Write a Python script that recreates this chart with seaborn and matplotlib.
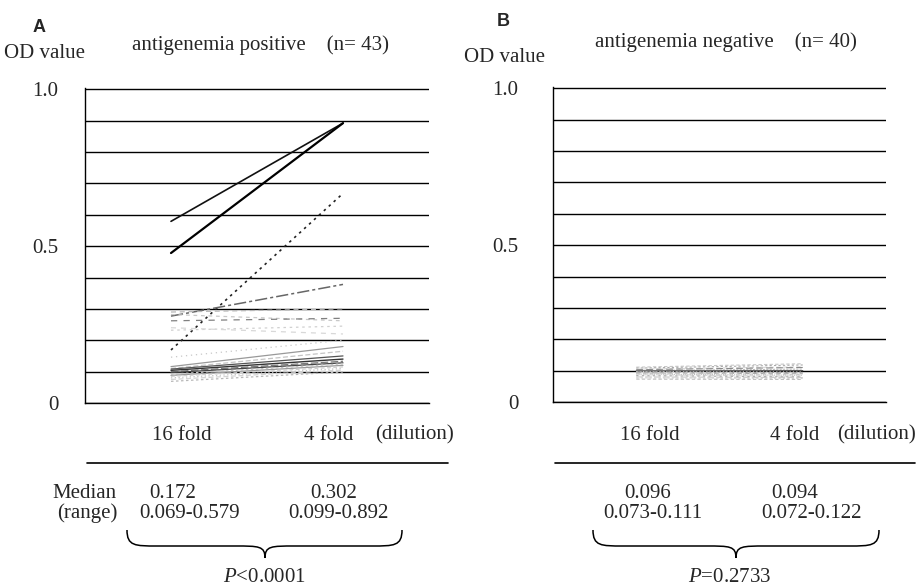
import numpy as np
import pandas as pd
import matplotlib
matplotlib.use("Agg")
import matplotlib.pyplot as plt
from matplotlib.path import Path
from matplotlib.patches import PathPatch
import seaborn as sns

# ---------------- data ----------------
dilutions = ["16 fold", "4 fold"]

# panel A: antigenemia positive (visible lines)
od16_A = [0.579, 0.478, 0.169, 0.277, 0.290, 0.282, 0.262, 0.232, 0.240, 0.146,
          0.116, 0.110, 0.108, 0.104, 0.100, 0.097, 0.092, 0.088, 0.085, 0.080,
          0.075, 0.069]
od4_A = [0.892, 0.892, 0.668, 0.378, 0.300, 0.262, 0.270, 0.245, 0.220, 0.200,
         0.180, 0.165, 0.150, 0.140, 0.133, 0.128, 0.125, 0.120, 0.115, 0.110,
         0.105, 0.099]

# panel B: antigenemia negative
od16_B = [0.111, 0.108, 0.105, 0.103, 0.100, 0.099, 0.097, 0.096, 0.095, 0.093,
          0.091, 0.089, 0.087, 0.084, 0.080, 0.077, 0.073]
od4_B = [0.122, 0.118, 0.112, 0.110, 0.105, 0.100, 0.096, 0.094, 0.092, 0.090,
         0.088, 0.085, 0.082, 0.080, 0.078, 0.075, 0.072]

titles = ["antigenemia positive    (n= 43)", "antigenemia negative    (n= 40)"]
medians = [("0.172", "0.302"), ("0.096", "0.094")]
ranges = [("0.069-0.579", "0.099-0.892"), ("0.073-0.111", "0.072-0.122")]
pvalues = [("<", "0.0001"), ("=", "0.2733")]

# ---------------- styles (not data) ----------------
styles_A = [
    ("#111111", "", 1.2), ("#000000", "", 1.6), ("#222222", (1.5, 2.5), 1.2),
    ("#666666", (8, 2, 2, 2), 1.1), ("#b8b8b8", (4, 3), 0.9), ("#c8c8c8", (3, 3), 0.9),
    ("#808080", (5, 5), 0.9), ("#d0d0d0", (2, 3), 0.9), ("#d8d8d8", (4, 4), 0.9),
    ("#c8c8c8", (1, 3), 0.9), ("#999999", "", 0.9), ("#c4c4c4", (4, 2), 0.9),
    ("#555555", "", 0.9), ("#333333", "", 1.0), ("#777777", (6, 2), 0.9),
    ("#444444", "", 0.9), ("#c4c4c4", (2, 2), 0.9), ("#999999", "", 0.9),
    ("#d0d0d0", (3, 2), 0.9), ("#c4c4c4", (1, 2), 0.9), ("#d4d4d4", (4, 2), 0.9),
    ("#b8b8b8", (2, 2), 0.9),
]
styles_B = [
    ("#c8c8c8", (3, 2), 0.8), ("#aaaaaa", (2, 2), 0.8), ("#d4d4d4", (4, 2), 0.8),
    ("#888888", (6, 3), 0.8), ("#bbbbbb", (2, 1), 0.8), ("#555555", "", 0.9),
    ("#c8c8c8", (1, 2), 0.8), ("#999999", (5, 2), 0.8), ("#d4d4d4", (2, 2), 0.8),
    ("#aaaaaa", (4, 3), 0.8), ("#c8c8c8", (3, 3), 0.8), ("#bbbbbb", (1, 1), 0.8),
    ("#d4d4d4", (4, 2), 0.8), ("#aaaaaa", (2, 3), 0.8), ("#c8c8c8", (6, 2), 0.8),
    ("#d4d4d4", (2, 2), 0.8), ("#bbbbbb", (3, 2), 0.8),
]

sns.set_theme(style="white")
plt.rcParams["font.family"] = ["Liberation Serif", "DejaVu Serif"]
plt.rcParams["font.size"] = 15
plt.rcParams["mathtext.fontset"] = "custom"
plt.rcParams["mathtext.rm"] = "Liberation Serif"
plt.rcParams["mathtext.it"] = "Liberation Serif:italic"

W, H = 919, 586
fig = plt.figure(figsize=(W / 100, H / 100), dpi=100)


def fx(x):
    return x / W


def fy(y):
    return 1 - y / H


def long_df(v16, v4):
    rows = []
    for i, (a, b) in enumerate(zip(v16, v4)):
        rows.append({"subject": i, "pos": 1, "od": a})
        rows.append({"subject": i, "pos": 2, "od": b})
    return pd.DataFrame(rows)


def draw_panel(rect, v16, v4, styles, pad):
    ax = fig.add_axes(rect)
    df = long_df(v16, v4)
    palette = {i: s[0] for i, s in enumerate(styles)}
    dashes = {i: s[1] for i, s in enumerate(styles)}
    sizes = {i: s[2] for i, s in enumerate(styles)}
    sns.lineplot(data=df, x="pos", y="od", hue="subject", style="subject",
                 size="subject", palette=palette, dashes=dashes, sizes=sizes,
                 units="subject", estimator=None, legend=False, ax=ax, zorder=3)
    ax.set_xlim(0.5, 2.5)
    ax.set_ylim(0, 1.004)
    ax.set_yticks([0, 0.5, 1.0])
    ax.set_yticklabels(["0", "0.5", "1.0"])
    ax.set_yticks(np.arange(0.1, 1.0, 0.1), minor=True)
    ax.set_xticks([])
    ax.grid(which="both", axis="y", color="black", lw=1.0)
    ax.set_axisbelow(True)
    ax.tick_params(axis="y", which="both", length=0, pad=pad, labelsize=15)
    for s in ["top", "right"]:
        ax.spines[s].set_visible(False)
    for s in ["left", "bottom"]:
        ax.spines[s].set_color("black")
        ax.spines[s].set_linewidth(1.0)
    ax.set_xlabel("")
    ax.set_ylabel("")
    return ax


axA = draw_panel([fx(85), fy(403), fx(429) - fx(85), fy(88) - fy(403)],
                 od16_A, od4_A, styles_A, 19)
axB = draw_panel([fx(553), fy(402), fx(886) - fx(553), fy(87) - fy(402)],
                 od16_B, od4_B, styles_B, 25)

# overlay in pixel coordinates for annotations
ov = fig.add_axes([0, 0, 1, 1])
ov.set_xlim(0, W)
ov.set_ylim(H, 0)
ov.axis("off")
ov.patch.set_alpha(0)


def brace(x0, xm, x1, yt, ym, yb):
    verts = [(x0, yt), (x0, ym), (x0 + 8, ym), (x0 + 30, ym),
             (xm - 30, ym),
             (xm - 6, ym), (xm, ym), (xm, yb),
             (xm, ym), (xm + 6, ym), (xm + 30, ym),
             (x1 - 30, ym),
             (x1 - 8, ym), (x1, ym), (x1, yt)]
    codes = [Path.MOVETO, Path.CURVE4, Path.CURVE4, Path.CURVE4,
             Path.LINETO,
             Path.CURVE4, Path.CURVE4, Path.CURVE4,
             Path.CURVE4, Path.CURVE4, Path.CURVE4,
             Path.LINETO,
             Path.CURVE4, Path.CURVE4, Path.CURVE4]
    ov.add_patch(PathPatch(Path(verts, codes), fill=False, lw=1.1, ec="black"))


panels = [
    dict(letter=(39, 27), odv=(45, 53), title=(260, 45), ticks=[(182, 435), (329, 435)],
         dil=(415, 435), rule=(87, 448), med=(84, 493), rng=(87, 513),
         medx=(173, 334), rngx=(190, 338), br=(127, 265, 402), p=(264, 577), lab="A"),
    dict(letter=(503, 22), odv=(505, 58), title=(726, 42), ticks=[(650, 435), (795, 435)],
         dil=(876, 435), rule=(555, 915), med=None, rng=None,
         medx=(648, 795), rngx=(653, 812), br=(593, 736, 879), p=(730, 577), lab="B"),
]

for k, P in enumerate(panels):
    ov.text(*P["letter"], P["lab"], ha="center", va="center", fontsize=13,
            fontweight="bold", family=["Liberation Sans", "DejaVu Sans"])
    ov.text(*P["odv"], "OD value", ha="center", va="center", fontsize=15)
    ov.text(*P["title"], titles[k], ha="center", va="center", fontsize=15)
    for (x, y), lab in zip(P["ticks"], dilutions):
        ov.text(x, y, lab, ha="center", va="center", fontsize=15)
    ov.text(*P["dil"], "(dilution)", ha="center", va="center", fontsize=15)
    ov.plot(P["rule"], [463, 463], color="black", lw=1.2)
    if P["med"]:
        ov.text(*P["med"], "Median", ha="center", va="center", fontsize=15)
        ov.text(*P["rng"], "(range)", ha="center", va="center", fontsize=15)
    for x, t in zip(P["medx"], medians[k]):
        ov.text(x, 493, t, ha="center", va="center", fontsize=15)
    for x, t in zip(P["rngx"], ranges[k]):
        ov.text(x, 513, t, ha="center", va="center", fontsize=15)
    x0, xm, x1 = P["br"]
    brace(x0, xm, x1, 530, 546, 558)
    op, val = pvalues[k]
    ov.text(*P["p"], "$\\mathit{P}$" + op + val, ha="center", va="center", fontsize=15)

fig.savefig("out.png", dpi=100)
